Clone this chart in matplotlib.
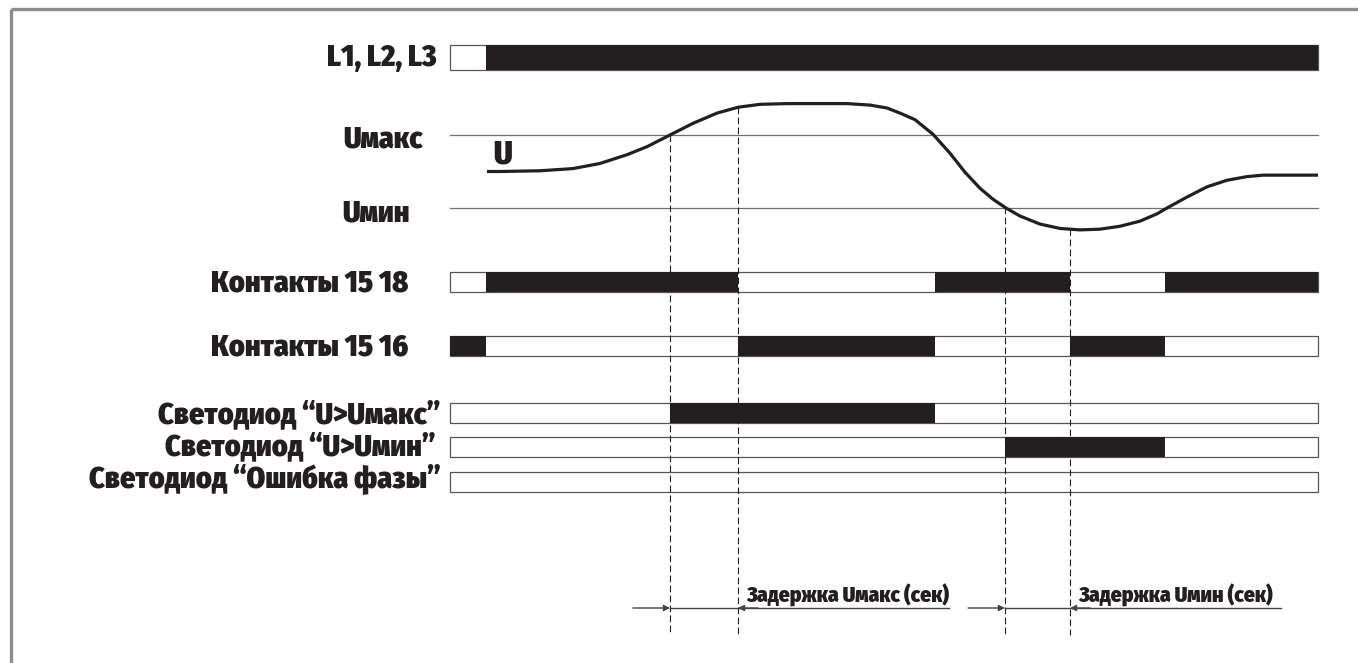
import numpy as np
import matplotlib
matplotlib.use("Agg")
import matplotlib.pyplot as plt
from matplotlib.patches import Rectangle

# time axis of the diagram (arbitrary units, the drawing runs from T_START to T_END)
T_START, T_END = 450, 1318

# events
t_cross_max = 670     # U goes above Umax
t_switch_max = 738    # relay reacts after delay Umax
t_cross_min = 1005    # U goes below Umin
t_switch_min = 1070   # relay reacts after delay Umin

# voltage curve, in units where Umin = 0 and Umax = 1
u_time = [487, 500, 540, 573, 600, 627, 647, 670, 693, 717, 738, 760, 787, 820, 847,
          870, 887, 900, 915, 933, 950, 965, 980, 993, 1006, 1020, 1040, 1060, 1080,
          1100, 1120, 1140, 1157, 1167, 1187, 1207, 1227, 1247, 1263, 1285, 1318]
u_value = [0.50, 0.50, 0.51, 0.54, 0.61, 0.73, 0.84, 1.00, 1.16, 1.30, 1.38, 1.42, 1.43,
           1.43, 1.43, 1.41, 1.37, 1.30, 1.21, 1.01, 0.75, 0.49, 0.27, 0.12, 0.00, -0.11,
           -0.22, -0.28, -0.30, -0.29, -0.25, -0.18, -0.08, 0.00, 0.15, 0.29, 0.38, 0.43,
           0.45, 0.45, 0.45]

# digital signals: label, initial state, switching times
sig_labels = ["L1, L2, L3", "Контакты 15 18", "Контакты 15 16",
              "Светодиод “U>Uмакс”", "Светодиод “U>Uмин”", "Светодиод “Ошибка фазы”"]
sig_start = [0, 0, 1, 0, 0, 0]
sig_edges = [[486],
             [486, 738, 935, 1070, 1165],
             [486, 738, 935, 1070, 1165],
             [670, 935],
             [1005, 1165],
             []]

delay_labels = ["Задержка Uмакс (сек)", "Задержка Uмин (сек)"]

# ---- layout (pixels of the 1358x663 picture) ----
W, H = 1358, 663
row_y = [57.5, 282, 346, 413, 446.5, 482]     # centres of the signal bars
row_h = [25, 20, 20, 20, 20, 20]
label_x = [437, 408, 408, 441, 436, 441]
label_base = [66, 291, 355, 423, 455, 487]
Y_UMAX, Y_UMIN = 135, 208
Y_ARROW, Y_DASH_END = 608, 635

INK = "#231f20"
GREY = "#6f6f6f"
plt.rcParams["font.family"] = ["Fira Sans Condensed", "PT Sans Narrow", "DejaVu Sans"]
FONT = dict(weight=900, color=INK)


def u_to_y(u):
    return Y_UMIN - np.asarray(u) * (Y_UMIN - Y_UMAX)


fig = plt.figure(figsize=(W / 100, H / 100), dpi=100)
ax = fig.add_axes([0, 0, 1, 1])
ax.set_xlim(0, W)
ax.set_ylim(H, 0)
ax.axis("off")

# outer frame (cut by the right and bottom edges)
ax.plot([11, W + 5], [9, 9], color="#8c8c8c", lw=2.4, solid_capstyle="butt")
ax.plot([11, 11], [9, H + 5], color="#8c8c8c", lw=2.4, solid_capstyle="butt")

# signal bars
for lab, st, edges, yc, h, lx, lb in zip(sig_labels, sig_start, sig_edges, row_y, row_h,
                                         label_x, label_base):
    bounds = [T_START] + edges + [T_END]
    state = st
    for a, b in zip(bounds[:-1], bounds[1:]):
        if state:
            ax.add_patch(Rectangle((a, yc - h / 2), b - a, h, facecolor=INK,
                                   edgecolor="none", zorder=3))
        state = 1 - state
    ax.add_patch(Rectangle((T_START, yc - h / 2), T_END - T_START, h, facecolor="none",
                           edgecolor="#555555", lw=0.9, zorder=2))
    ax.text(lx, lb, lab, ha="right", va="baseline", fontsize=21.5, zorder=5, **FONT)

# thresholds
for yl, lab, lx, lb in [(Y_UMAX, "Uмакс", 423, 148), (Y_UMIN, "Uмин", 410, 222)]:
    ax.plot([T_START, T_END], [yl, yl], color=GREY, lw=0.9, zorder=2)
    ax.text(lx, lb, lab, ha="right", va="baseline", fontsize=21.5, **FONT)

# voltage curve
ax.plot(u_time, u_to_y(u_value), color=INK, lw=2.3, solid_joinstyle="round",
        solid_capstyle="butt", zorder=4)
ax.text(493, 164, "U", ha="left", va="baseline", fontsize=23, **FONT)

# dashed verticals from the curve down to the delay arrows
for t in [t_cross_max, t_switch_max, t_cross_min, t_switch_min]:
    y0 = float(u_to_y(np.interp(t, u_time, u_value)))
    ax.plot([t, t], [y0, Y_DASH_END], color=INK, lw=0.8, dashes=(6, 3), zorder=6)

# delay arrows and captions
arrow = dict(arrowstyle="-|>", color="#444444", lw=1.0, mutation_scale=9,
             shrinkA=0, shrinkB=0)
for (ta, tb), lab, x_end in zip([(t_cross_max, t_switch_max), (t_cross_min, t_switch_min)],
                                delay_labels, [949, 1281]):
    ax.annotate("", xy=(ta, Y_ARROW), xytext=(ta - 37, Y_ARROW), arrowprops=arrow)
    ax.annotate("", xy=(tb, Y_ARROW), xytext=(tb + 20, Y_ARROW), arrowprops=arrow)
    ax.plot([ta, x_end], [Y_ARROW, Y_ARROW], color="#444444", lw=1.0, zorder=2)
    ax.text(tb + 8, 603, lab, ha="left", va="baseline", fontsize=15.5, **FONT)

fig.savefig("out.png", dpi=100)
